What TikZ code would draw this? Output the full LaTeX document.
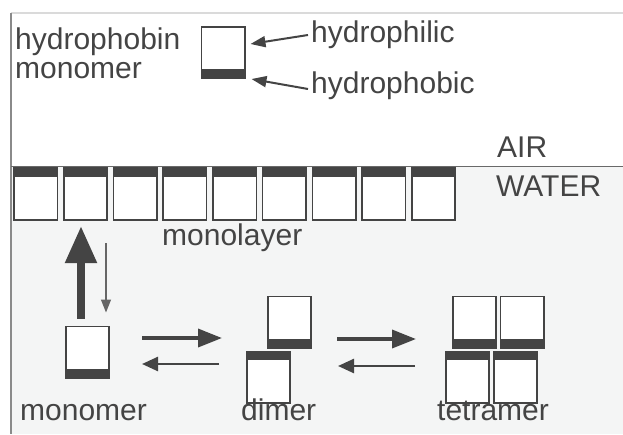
\documentclass[tikz,border=0pt]{standalone}
\usepackage{fontspec}
\setmainfont{Liberation Sans}
\usetikzlibrary{arrows.meta}
\definecolor{ink}{HTML}{444444}
\definecolor{water}{HTML}{F4F5F5}
\definecolor{rim}{HTML}{8A8A8A}
\definecolor{rimlight}{HTML}{DADADA}
\definecolor{thin}{HTML}{666666}
\begin{document}
\begin{tikzpicture}[x=1pt,y=-1pt,
  cell/.style={draw=ink, line width=1.6pt, fill=white, inner sep=0pt,
    minimum width=43.4pt, minimum height=51.4pt},
  bandlow/.style={cell, path picture={\fill[ink]
    (path picture bounding box.south west) rectangle
    ([yshift=9pt]path picture bounding box.south east);}},
  bandhigh/.style={cell, path picture={\fill[ink]
    (path picture bounding box.north west) rectangle
    ([yshift=-9pt]path picture bounding box.north east);}},
  lbl/.style={inner sep=0pt, anchor=base west, text=ink,
    font=\fontsize{30}{31}\selectfont},
  pointer/.style={draw=ink, line width=2pt, -{Triangle[length=15pt,width=11pt]}},
  bigup/.style={draw=ink, line width=8pt, -{Triangle[length=37pt,width=30pt]}},
  smalldown/.style={draw=thin, line width=1.3pt, -{Triangle[length=13pt,width=10pt]}},
  fwd/.style={draw=ink, line width=3.5pt, -{Triangle[length=24pt,width=18pt]}},
  back/.style={draw=ink, line width=2.5pt, -{Triangle[length=16pt,width=14pt]}}]
\useasboundingbox (0,0) rectangle (623,434);

% water phase and frame
\fill[water] (11,166) rectangle (623,434);
\draw[rimlight, line width=1.5pt] (11,13) -- (623,13);
\draw[rim, line width=1.5pt] (11,13) -- (11,434);
\draw[ink!80, line width=1pt] (11,166) -- (623,166);

% legend
\node[lbl] (tname1) at (15,49) {hydrophobin};
\node[lbl] (tname2) at (15,78) {monomer};
\node[bandlow] (hmono) at (223,52.5) {};
\node[lbl] (philic) at (311,42) {hydrophilic};
\node[lbl] (phobic) at (311,93) {hydrophobic};
\draw[pointer] ([xshift=-3pt,yshift=7pt]philic.base west) -- ([xshift=5pt,yshift=8.5pt]hmono.east);
\draw[pointer] ([xshift=-3pt,yshift=4pt]phobic.base west) -- ([xshift=6pt,yshift=-26.5pt]hmono.east);

\node[lbl] (air) at (497,157) {AIR};
\node[lbl] (wat) at (496,196.5) {WATER};

% monolayer at the interface
\foreach \i in {0,...,8}
  \node[bandhigh, minimum height=52.4pt] (ml\i) at ({35.8+49.7*\i},194) {};
\node[lbl] (mltxt) at (162,245) {monolayer};

% species in solution
\node[bandlow] (mono) at (87.5,352) {};
\node[bandlow] (dimtop) at (289.5,322) {};
\node[bandhigh] (dimbot) at (268.5,377) {};
\node[bandlow] (tettl) at (474.5,322) {};
\node[bandlow] (tettr) at (522,322) {};
\node[bandhigh] (tetbl) at (467.5,377) {};
\node[bandhigh] (tetbr) at (515.5,377) {};

\node[lbl] (monotxt) at (20,420) {monomer};
\node[lbl] (dimtxt) at (241,420) {dimer};
\node[lbl] (tettxt) at (437,420) {tetramer};

% equilibria
\draw[bigup] ([xshift=-6.5pt,yshift=7pt]mono.north) -- ([xshift=-4.5pt,yshift=-5pt]ml1.south);
\draw[smalldown] ([xshift=20.5pt,yshift=-22pt]ml1.south) -- ([xshift=18.5pt,yshift=13pt]mono.north);
\draw[fwd] ([xshift=32pt,yshift=14pt]mono.east) -- ([xshift=-45pt,yshift=-16pt]dimtop.west);
\draw[back] ([xshift=-27pt,yshift=13pt]dimbot.west) -- ([xshift=32pt,yshift=-12pt]mono.east);
\draw[fwd] ([xshift=25pt,yshift=-17pt]dimtop.east) -- ([xshift=-36pt,yshift=-17pt]tettl.west);
\draw[back] ([xshift=-30pt,yshift=11pt]tetbl.west) -- ([xshift=47pt,yshift=11pt]dimbot.east);
\end{tikzpicture}
\end{document}
